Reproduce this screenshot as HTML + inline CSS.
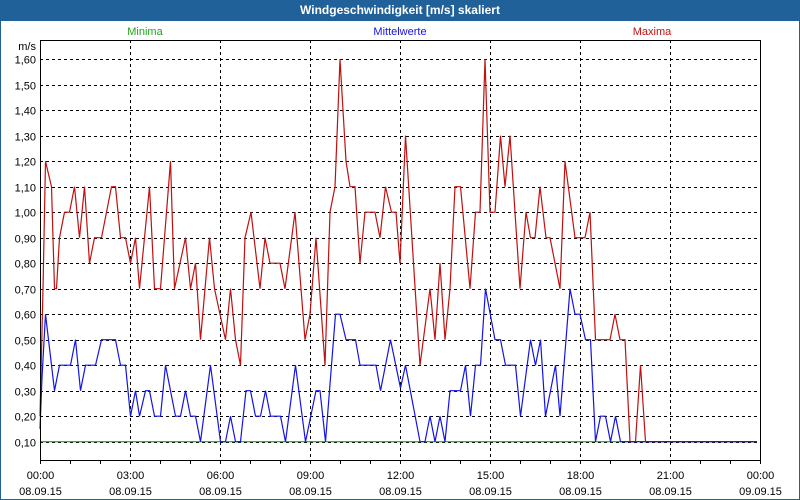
<!DOCTYPE html>
<html><head><meta charset="utf-8">
<style>
html,body{margin:0;padding:0;background:#fff;}
#wrap{position:relative;width:800px;height:500px;overflow:hidden;font-family:"Liberation Sans",sans-serif;}
#titlebar{position:absolute;left:0;top:0;width:800px;height:21px;background:#1f6198;color:#fff;font-weight:bold;font-size:12px;line-height:21px;text-align:center;}
#frame{position:absolute;left:0;top:0;width:798px;height:498px;border:1px solid #1f6198;}
svg text{font-family:"Liberation Sans",sans-serif;font-size:11px;}
</style></head>
<body>
<div id="wrap">
<div id="frame"></div>
<div id="titlebar">Windgeschwindigkeit [m/s] skaliert</div>
<svg id="chart" width="800" height="500" style="position:absolute;left:0;top:0">
<text x="145" y="35" fill="#1fa31f" text-anchor="middle">Minima</text>
<text x="400" y="35" fill="#1414e6" text-anchor="middle">Mittelwerte</text>
<text x="652" y="35" fill="#c01010" text-anchor="middle">Maxima</text>
<text x="36" y="50" text-anchor="end" fill="#000">m/s</text>
<g id="grid"></g><g id="series"></g><g id="axes"></g>
</svg>
</div>
<script>
const yTicks=[0.1,0.2,0.3,0.4,0.5,0.6,0.7,0.8,0.9,1.0,1.1,1.2,1.3,1.4,1.5,1.6];
const xTickTimes=["00:00","03:00","06:00","09:00","12:00","15:00","18:00","21:00","00:00"];
const xTickDates=["08.09.15","08.09.15","08.09.15","08.09.15","08.09.15","08.09.15","08.09.15","08.09.15","09.09.15"];
// minutes since 00:00 and values
const maxT=[0,3,6,11,23,29,33,39,49,59,69,79,89,99,109,123,143,151,161,171,181,191,199,219,229,241,253,261,269,291,301,311,321,339,349,371,381,391,401,410,422,440,450,460,480,490,510,530,540,552,570,580,590,600,612,620,630,640,650,670,680,691,703,712,720,731,747,760,780,790,800,810,820,830,841,860,871,880,890,900,910,921,930,940,960,972,981,990,1000,1012,1020,1040,1050,1070,1090,1100,1111,1140,1150,1160,1170,1180,1191,1201,1211,1434];
const maxV=[0.2,0.45,0.7,1.2,1.1,0.7,0.7,0.9,1.0,1.0,1.1,0.9,1.1,0.8,0.9,0.9,1.1,1.1,0.9,0.9,0.8,0.9,0.7,1.1,0.7,0.7,1.0,1.2,0.7,0.9,0.7,0.8,0.5,0.9,0.7,0.5,0.7,0.5,0.4,0.9,1.0,0.7,0.9,0.8,0.8,0.7,1.0,0.5,0.6,0.9,0.4,1.0,1.1,1.6,1.2,1.1,1.1,0.8,1.0,1.0,0.9,1.1,1.0,1.0,0.8,1.3,0.8,0.4,0.7,0.5,0.8,0.5,0.7,1.1,1.1,0.7,1.0,1.0,1.6,1.0,1.0,1.3,1.1,1.3,0.7,1.0,0.9,0.9,1.1,0.9,0.9,0.7,1.2,0.9,0.9,1.0,0.5,0.5,0.6,0.5,0.5,0.1,0.1,0.4,0.1,0.1];
const meanT=[0,4,11,29,39,61,71,81,91,111,123,151,161,171,181,191,199,211,219,229,241,251,271,281,291,301,311,321,341,361,371,381,391,401,412,421,431,441,451,461,481,491,511,531,552,560,571,591,600,612,631,640,672,681,701,721,731,760,770,780,790,800,810,820,841,851,861,871,881,891,910,921,931,951,961,981,991,1001,1011,1031,1040,1060,1070,1080,1091,1101,1111,1121,1131,1141,1151,1161,1434];
const meanV=[0.15,0.35,0.6,0.3,0.4,0.4,0.5,0.3,0.4,0.4,0.5,0.5,0.4,0.4,0.2,0.3,0.2,0.3,0.3,0.2,0.2,0.4,0.2,0.2,0.3,0.2,0.2,0.1,0.4,0.1,0.1,0.2,0.1,0.1,0.3,0.3,0.2,0.2,0.3,0.2,0.2,0.1,0.4,0.1,0.3,0.3,0.1,0.6,0.6,0.5,0.5,0.4,0.4,0.3,0.5,0.31,0.4,0.1,0.1,0.2,0.1,0.2,0.1,0.3,0.3,0.4,0.2,0.4,0.4,0.7,0.5,0.5,0.4,0.4,0.2,0.5,0.4,0.5,0.2,0.4,0.2,0.7,0.6,0.6,0.5,0.5,0.1,0.2,0.2,0.1,0.2,0.1,0.1];
const minT=[0,1434];
const minV=[0.1,0.1];

const NS="http://www.w3.org/2000/svg";
const L=40,R=760,T=40,B=460;
function xs(m){return L+m*(R-L)/1440;}
function ys(v){return 441.7-(v-0.1)*255;}
function mk(tag,attrs,parent){const e=document.createElementNS(NS,tag);for(const k in attrs)e.setAttribute(k,attrs[k]);parent.appendChild(e);return e;}
const grid=document.getElementById('grid'),axes=document.getElementById('axes'),series=document.getElementById('series');
yTicks.forEach((v,i)=>{
  const y=Math.round(ys(v))+0.5;
  const g=mk('line',{x1:L,x2:R,y1:y,y2:y,stroke:'#000','stroke-dasharray':'3,3','stroke-width':1},grid);
  
  
  const t=mk('text',{x:36,y:y+4,'text-anchor':'end',fill:'#000'},axes);
  t.textContent=v.toFixed(2).replace('.',',');
  
  
});
xTickTimes.forEach((lab,i)=>{
  const x=Math.round(xs(i*180))+0.5;
  if(i>0&&i<xTickTimes.length-1){
    const g=mk('line',{x1:x,x2:x,y1:T,y2:B,stroke:'#000','stroke-dasharray':'3,3','stroke-width':1},grid);
    
    
  }
  const t1=mk('text',{x:x,y:479,'text-anchor':'middle',fill:'#000'},axes);
  t1.textContent=lab;
  
  
  const t2=mk('text',{x:x,y:495,'text-anchor':'middle',fill:'#000'},axes);
  t2.textContent=xTickDates[i];
  
  
});
for(let h=0;h<=24;h++){
  const x=Math.round(xs(h*60))+0.5;
  const tk=mk('line',{x1:x,x2:x,y1:B,y2:B+4,stroke:'#000'},axes);
  
  
}
const frame=mk('rect',{x:L+0.5,y:T+0.5,width:R-L,height:B-T,fill:'none',stroke:'#000','stroke-width':1},axes);


function drawSeries(ts,vs,color,name){
  const pts=ts.map((t,i)=>xs(t).toFixed(1)+','+ys(vs[i]).toFixed(1)).join(' ');
  const p=mk('polyline',{points:pts,fill:'none',stroke:color,'stroke-width':1.2,'stroke-linejoin':'miter'},series);
  
  
}
drawSeries(minT,minV,'#1fa31f','minima-line');
drawSeries(maxT,maxV,'#c01010','maxima-line');
drawSeries(meanT,meanV,'#1414e6','mittelwerte-line');
</script>
</body></html>
